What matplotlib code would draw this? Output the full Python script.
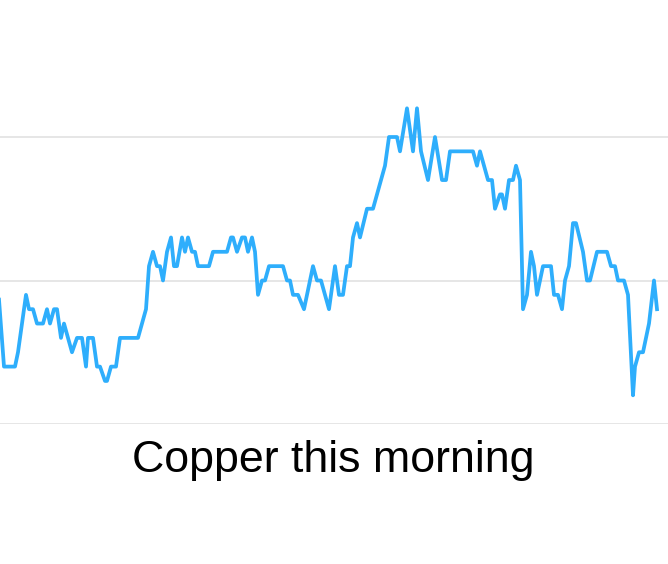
import matplotlib
matplotlib.use("Agg")
import matplotlib.pyplot as plt

# time position (chart units) and price level (ticks above base)
t = [-3.5, 4, 15, 18, 26, 29, 33, 37, 43, 47, 50, 54, 57, 61, 64, 72, 77, 82, 86, 88,
     93, 97, 100, 105, 107, 111, 116, 120, 138, 146, 149, 153, 157, 160, 163, 167, 171,
     174, 177, 182, 185, 188, 192, 195, 198, 209, 213, 227, 231, 233, 237, 242, 245, 248,
     252, 255, 258, 262, 265, 269, 283, 287, 290, 293, 298, 304, 313, 317, 321, 329, 335,
     339, 343, 347, 350, 353, 357, 360, 367, 373, 385, 389, 397, 400, 407, 413, 417, 421,
     428, 435, 442, 446, 450, 473, 477, 480, 488, 492, 495, 500, 502, 505, 509, 513, 516,
     520, 523, 527, 531, 534, 537, 543, 551, 554, 558, 562, 565, 569, 573, 576, 583, 587,
     590, 597, 607, 611, 615, 618, 624, 628, 633, 635, 639, 643, 649, 654, 657]
level = [11, 4, 4, 5, 9, 8, 8, 7, 7, 8, 7, 8, 8, 6, 7, 5, 6, 6, 4, 6,
         6, 4, 4, 3, 3, 4, 4, 6, 6, 8, 11, 12, 11, 11, 10, 12, 13,
         11, 11, 13, 12, 13, 12, 12, 11, 11, 12, 12, 13, 13, 12, 13, 13, 12,
         13, 12, 9, 10, 10, 11, 11, 10, 10, 9, 9, 8, 11, 10, 10, 8, 11,
         9, 9, 11, 11, 13, 14, 13, 15, 15, 18, 20, 20, 19, 22, 19, 22, 19,
         17, 20, 17, 17, 19, 19, 18, 19, 17, 17, 15, 16, 16, 15, 17, 17, 18,
         17, 8, 9, 12, 11, 9, 11, 11, 9, 9, 8, 10, 11, 14, 14, 12, 10,
         10, 12, 12, 11, 11, 10, 10, 9, 2, 4, 5, 5, 7, 10, 8]
grid_levels = [0, 10, 20]
title = "Copper this morning"

W, H = 668, 564
fig = plt.figure(figsize=(W / 100, H / 100), dpi=100)
ax = fig.add_axes([0, 1 - 424 / H, 1, 424 / H])

ax.plot(t, level, color="#2eaefc", lw=2.7, solid_joinstyle="round", zorder=3)

for g in grid_levels:
    ax.axhline(g, color="#e1e1e1", lw=1.2, zorder=1)

ax.set_xlim(0, W)
ax.set_ylim(0, 424 / 14.35)
ax.axis("off")

fig.text(333.5 / W, 1 - 472 / H, title, ha="center", va="baseline",
         fontsize=32.2, family="Liberation Sans", color="black")

fig.savefig("out.png", dpi=100, facecolor="white")
